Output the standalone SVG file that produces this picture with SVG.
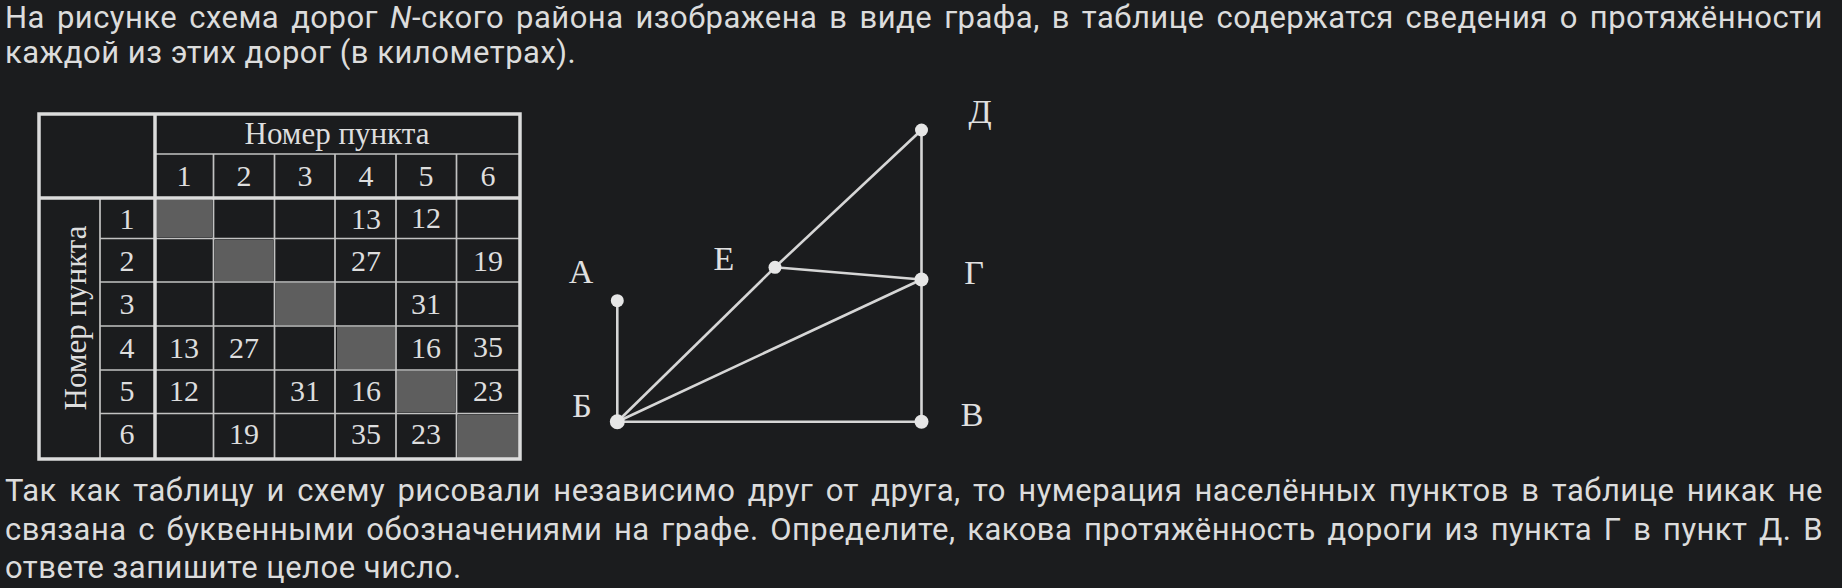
<svg xmlns="http://www.w3.org/2000/svg" width="1842" height="588" viewBox="0 0 1842 588">
<style>
.para{font-family:Roboto,"Noto Sans",sans-serif;font-size:31px;letter-spacing:0.5px;fill:#dcdcdc}
.tt{font-family:"Liberation Serif","Times New Roman",serif;font-size:30px;fill:#dedede;text-anchor:middle}
.th{font-size:31px}
.gl{font-family:"Liberation Serif","Times New Roman",serif;font-size:34px;fill:#e0e0e0;text-anchor:middle}
.thick{stroke:#dcdcdc;stroke-width:3.5;fill:none}
.thin{stroke:#c2c2c2;stroke-width:1.7;fill:none}
.diag{fill:#5e5e5e}
.edge{stroke:#d6d6d6;stroke-width:2.6;fill:none}
.dot{fill:#e6e6e6}
</style>
<rect x="0" y="0" width="1842" height="588" fill="#1b1c1e"/>

<g id="text-top">
<text class="para" x="5" y="28" word-spacing="3.8" textLength="1818" lengthAdjust="spacing">На рисунке схема дорог <tspan font-style="italic">N</tspan>-ского района изображена в виде графа, в таблице содержатся сведения о протяжённости</text>
<text class="para" x="5" y="63">каждой из этих дорог (в километрах).</text>
</g>

<g id="table">
<rect class="diag" x="157" y="200" width="55" height="37"/>
<rect class="diag" x="215" y="240" width="58" height="41"/>
<rect class="diag" x="276" y="283" width="58" height="42"/>
<rect class="diag" x="337" y="327" width="58" height="42"/>
<rect class="diag" x="397" y="371" width="58" height="41"/>
<rect class="diag" x="458" y="415" width="61" height="43"/>
<path class="thin" d="M155 154H520M100 238.5H520M100 282H520M100 326H520M100 370H520M100 413.5H520M100 198V459M213.5 154V459M274.5 154V459M335 154V459M396 154V459M456.5 154V459"/>
<rect class="thick" x="39" y="114" width="481" height="345"/>
<path class="thick" d="M155 114V459M39 198H520"/>
<text class="tt th" x="337" y="144">Номер пункта</text>
<text class="tt th" transform="translate(86,318) rotate(-90)" x="0" y="0">Номер пункта</text>
<g id="col-heads">
<text class="tt" x="184" y="186">1</text><text class="tt" x="244" y="186">2</text><text class="tt" x="305" y="186">3</text><text class="tt" x="366" y="186">4</text><text class="tt" x="426" y="186">5</text><text class="tt" x="488" y="186">6</text>
</g>
<g id="row-heads">
<text class="tt" x="127" y="229">1</text><text class="tt" x="127" y="271">2</text><text class="tt" x="127" y="314">3</text><text class="tt" x="127" y="358">4</text><text class="tt" x="127" y="401">5</text><text class="tt" x="127" y="444">6</text>
</g>
<g id="cells">
<text class="tt" x="366" y="229">13</text><text class="tt" x="426" y="228">12</text>
<text class="tt" x="366" y="271">27</text><text class="tt" x="488" y="271">19</text>
<text class="tt" x="426" y="314">31</text>
<text class="tt" x="184" y="358">13</text><text class="tt" x="244" y="358">27</text><text class="tt" x="426" y="358">16</text><text class="tt" x="488" y="357">35</text>
<text class="tt" x="184" y="401">12</text><text class="tt" x="305" y="401">31</text><text class="tt" x="366" y="401">16</text><text class="tt" x="488" y="401">23</text>
<text class="tt" x="244" y="444">19</text><text class="tt" x="366" y="444">35</text><text class="tt" x="426" y="444">23</text>
</g>
</g>

<g id="connectors">
<line class="edge" x1="617.3" y1="300.7" x2="617.3" y2="421.7"/>
<line class="edge" x1="617.3" y1="421.7" x2="775" y2="267.3"/>
<line class="edge" x1="775" y1="267.3" x2="921.5" y2="130"/>
<line class="edge" x1="775" y1="267.3" x2="921.5" y2="279.5"/>
<line class="edge" x1="617.3" y1="421.7" x2="921.5" y2="279.5"/>
<line class="edge" x1="617.3" y1="421.7" x2="921.5" y2="421.7"/>
<line class="edge" x1="921.5" y1="130" x2="921.5" y2="421.7"/>
</g>

<g id="node-A"><circle class="dot" cx="617.3" cy="300.7" r="6.5"/><text class="gl" x="581" y="283">А</text></g>
<g id="node-B"><circle class="dot" cx="617.3" cy="421.7" r="7.5"/><text class="gl" x="582" y="417">Б</text></g>
<g id="node-V"><circle class="dot" cx="921.5" cy="421.7" r="7"/><text class="gl" x="972" y="426">В</text></g>
<g id="node-G"><circle class="dot" cx="921.5" cy="279.5" r="7"/><text class="gl" x="974" y="284">Г</text></g>
<g id="node-D"><circle class="dot" cx="921.5" cy="130" r="6.5"/><text class="gl" x="980" y="123">Д</text></g>
<g id="node-E"><circle class="dot" cx="775" cy="267.3" r="6.5"/><text class="gl" x="724" y="270">Е</text></g>

<g id="text-bottom">
<text class="para" x="5" y="501" word-spacing="4.2" textLength="1818" lengthAdjust="spacing">Так как таблицу и схему рисовали независимо друг от друга, то нумерация населённых пунктов в таблице никак не</text>
<text class="para" x="5" y="540" word-spacing="3.5" textLength="1818" lengthAdjust="spacing">связана с буквенными обозначениями на графе. Определите, какова протяжённость дороги из пункта Г в пункт Д. В</text>
<text class="para" x="5" y="578">ответе запишите целое число.</text>
</g>
</svg>
